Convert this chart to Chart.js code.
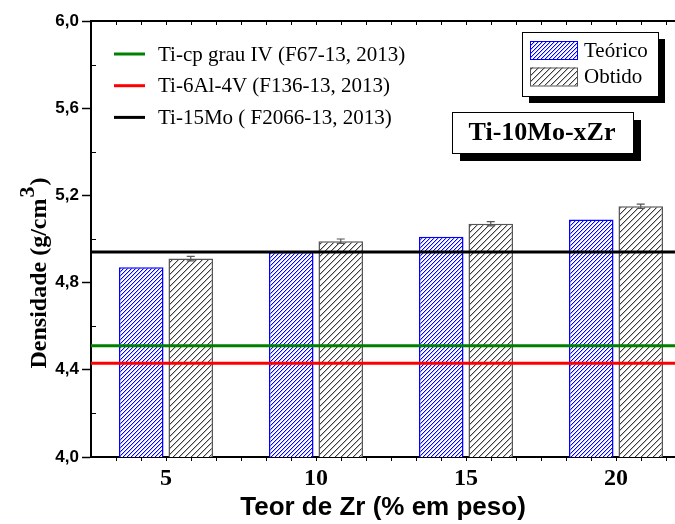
<!DOCTYPE html>
<html>
<head>
<meta charset="utf-8">
<script src="https://cdn.jsdelivr.net/npm/chart.js@4/dist/chart.umd.min.js"></script>
<style>
    html, body { margin: 0; padding: 0; background: #fff; overflow: hidden; }
    #wrap { width: 700px; height: 524px; }
</style>
</head>
<body>
<div id="wrap"><canvas id="densityChart"></canvas></div>
<script>
// Zr content (% em peso) and densities (g/cm3)
const zrContent = ['5', '10', '15', '20'];
const theoretical = [4.87, 4.94, 5.01, 5.09];
const measured = [4.91, 4.99, 5.07, 5.15];
const measuredErr = [0.01, 0.01, 0.01, 0.01];

// reference alloys (horizontal lines)
const refLabels = ['Ti-cp grau IV (F67-13, 2013)', 'Ti-6Al-4V (F136-13, 2013)', 'Ti-15Mo ( F2066-13, 2013)'];
const refDensity = [4.51, 4.43, 4.94];
const refColors = ['#008000', '#ff0000', '#000000'];

const seriesLabels = ['Teórico', 'Obtido'];
const alloyLabel = 'Ti-10Mo-xZr';

const serif = '"Liberation Serif", "Times New Roman", serif';
const sans = '"Liberation Sans", Arial, sans-serif';

// crisp "/" hatch built pixel by pixel
function hatch(rgb, soft, step) {
    const c = document.createElement('canvas');
    c.width = step; c.height = step;
    const g = c.getContext('2d');
    const img = g.createImageData(step, step);
    for (let py = 0; py < step; py++) {
        for (let px = 0; px < step; px++) {
            const k = (px + py) % step;
            let col = [255, 255, 255];
            if (k === step - 1) col = rgb;
            else if (k === 0) col = soft;
            const o = (py * step + px) * 4;
            img.data[o] = col[0]; img.data[o + 1] = col[1]; img.data[o + 2] = col[2]; img.data[o + 3] = 255;
        }
    }
    g.putImageData(img, 0, 0);
    return g.createPattern(c, 'repeat');
}

const blueHatch = hatch([0, 0, 255], [195, 195, 255], 4);
const grayHatch = hatch([60, 60, 60], [190, 190, 190], 6);

function shadowBox(ctx, x, y, w, h, off) {
    ctx.fillStyle = '#000';
    ctx.fillRect(x + off, y + off, w, h);
    ctx.fillStyle = '#fff';
    ctx.fillRect(x, y, w, h);
    ctx.strokeStyle = '#000';
    ctx.lineWidth = 1;
    ctx.strokeRect(x + 0.5, y + 0.5, w, h);
}

const decor = {
    id: 'decor',
    afterDatasetsDraw(chart) {
        const ctx = chart.ctx;
        const area = chart.chartArea;
        const y = chart.scales.y;

        // error bars on "Obtido"
        const meta = chart.getDatasetMeta(1);
        ctx.save();
        ctx.strokeStyle = '#555';
        ctx.lineWidth = 1.2;
        meta.data.forEach((bar, i) => {
            const hi = y.getPixelForValue(measured[i] + measuredErr[i]);
            const lo = y.getPixelForValue(measured[i] - measuredErr[i]);
            ctx.beginPath();
            ctx.moveTo(bar.x, hi); ctx.lineTo(bar.x, lo);
            ctx.moveTo(bar.x - 4, hi); ctx.lineTo(bar.x + 4, hi);
            ctx.moveTo(bar.x - 4, lo); ctx.lineTo(bar.x + 4, lo);
            ctx.stroke();
        });

        // reference density lines
        ctx.lineWidth = 3;
        refDensity.forEach((d, i) => {
            const py = y.getPixelForValue(d);
            ctx.strokeStyle = refColors[i];
            ctx.beginPath();
            ctx.moveTo(area.left, py); ctx.lineTo(area.right, py);
            ctx.stroke();
        });
        ctx.restore();
    },
    afterDraw(chart) {
        const ctx = chart.ctx;
        const area = chart.chartArea;
        const y = chart.scales.y;
        ctx.save();

        // top axis line + minor ticks
        ctx.strokeStyle = '#000';
        ctx.lineWidth = 2;
        ctx.beginPath();
        ctx.moveTo(area.left - 1, area.top); ctx.lineTo(area.right, area.top);
        ctx.stroke();
        const catW = (area.right - area.left) / zrContent.length;
        ctx.lineWidth = 1;
        ctx.beginPath();
        for (let k = 1; k < zrContent.length * 6; k++) {
            const px = Math.round(area.left + k * catW / 6) + 0.5;
            ctx.moveTo(px, area.top); ctx.lineTo(px, area.top + 4);
            ctx.moveTo(px, area.bottom); ctx.lineTo(px, area.bottom + 4);
        }
        // inward minor ticks on y
        y.ticks.forEach((t, i) => {
            if (i % 2 === 1) {
                const py = Math.round(y.getPixelForValue(t.value)) + 0.5;
                ctx.moveTo(area.left, py); ctx.lineTo(area.left + 5, py);
            }
        });
        ctx.stroke();

        // line legend (top-left)
        ctx.font = '21px ' + serif;
        ctx.textBaseline = 'middle';
        refLabels.forEach((lab, i) => {
            const ly = 54 + i * 31.7;
            ctx.strokeStyle = refColors[i];
            ctx.lineWidth = 3;
            ctx.beginPath();
            ctx.moveTo(114, ly); ctx.lineTo(145, ly);
            ctx.stroke();
            ctx.fillStyle = '#000';
            ctx.fillText(lab, 158, ly + 1);
        });

        // bar legend (top-right)
        shadowBox(ctx, 522, 32, 136, 64, 7);
        [blueHatch, grayHatch].forEach((p, i) => {
            const sy = 41 + i * 26.5;
            ctx.fillStyle = p;
            ctx.fillRect(530, sy, 47, 18);
            ctx.strokeStyle = i === 0 ? '#0000ff' : '#555';
            ctx.lineWidth = 1;
            ctx.strokeRect(530.5, sy + 0.5, 47, 18);
            ctx.fillStyle = '#000';
            ctx.fillText(seriesLabels[i], 584, sy + 10);
        });

        // alloy label box
        shadowBox(ctx, 452, 112, 181, 41, 8);
        ctx.font = 'bold 26px ' + serif;
        ctx.textAlign = 'center';
        ctx.fillStyle = '#000';
        ctx.fillText(alloyLabel, 542, 133);

        // x title
        ctx.font = 'bold 26px ' + sans;
        ctx.textBaseline = 'alphabetic';
        ctx.fillText('Teor de Zr (% em peso)', 383, 515);

        // y title with superscript
        ctx.translate(46, 274);
        ctx.rotate(-Math.PI / 2);
        const main = 'Densidade (g/cm';
        ctx.font = 'bold 24px ' + serif;
        const wMain = ctx.measureText(main).width;
        ctx.font = 'bold 22px ' + serif;
        const wSup = ctx.measureText('3').width;
        ctx.font = 'bold 24px ' + serif;
        const wEnd = ctx.measureText(')').width;
        let x0 = -(wMain + wSup + wEnd) / 2;
        ctx.textAlign = 'left';
        ctx.fillText(main, x0, 0);
        ctx.font = 'bold 22px ' + serif;
        ctx.fillText('3', x0 + wMain + 1, -12);
        ctx.font = 'bold 24px ' + serif;
        ctx.fillText(')', x0 + wMain + wSup + 2, 0);
        ctx.restore();
    }
};

new Chart(document.getElementById('densityChart'), {
    type: 'bar',
    data: {
        labels: zrContent,
        datasets: [{
            label: seriesLabels[0],
            data: theoretical,
            backgroundColor: blueHatch,
            borderColor: '#0000ff',
            borderWidth: 1.5,
            categoryPercentage: 0.66,
            barPercentage: 0.9
        }, {
            label: seriesLabels[1],
            data: measured,
            backgroundColor: grayHatch,
            borderColor: '#555555',
            borderWidth: 1.5,
            categoryPercentage: 0.66,
            barPercentage: 0.9
        }]
    },
    options: {
        responsive: true,
        maintainAspectRatio: false,
        animation: false,
        layout: { padding: { top: 21, right: 9, left: 0, bottom: 0 } },
        plugins: { legend: { display: false }, tooltip: { enabled: false } },
        scales: {
            x: {
                grid: { display: false, drawTicks: false },
                border: { color: '#000', width: 2 },
                ticks: { color: '#000', padding: 7, font: { family: serif, size: 24, weight: 'bold' } },
                afterFit: s => { s.height = 67; }
            },
            y: {
                min: 4, max: 6,
                grid: {
                    drawOnChartArea: false,
                    tickLength: 9,
                    tickWidth: 1.5,
                    tickColor: c => (c.index % 2 === 0 ? '#000' : 'rgba(0,0,0,0)')
                },
                border: { color: '#000', width: 2 },
                ticks: {
                    stepSize: 0.2,
                    autoSkip: false,
                    padding: 3,
                    color: '#000',
                    font: { family: sans, size: 17, weight: 'bold' },
                    callback: (v, i) => (i % 2 === 0 ? v.toFixed(1).replace('.', ',') : '')
                },
                afterFit: s => { s.width = 91; }
            }
        }
    },
    plugins: [decor]
});
</script>
</body>
</html>
